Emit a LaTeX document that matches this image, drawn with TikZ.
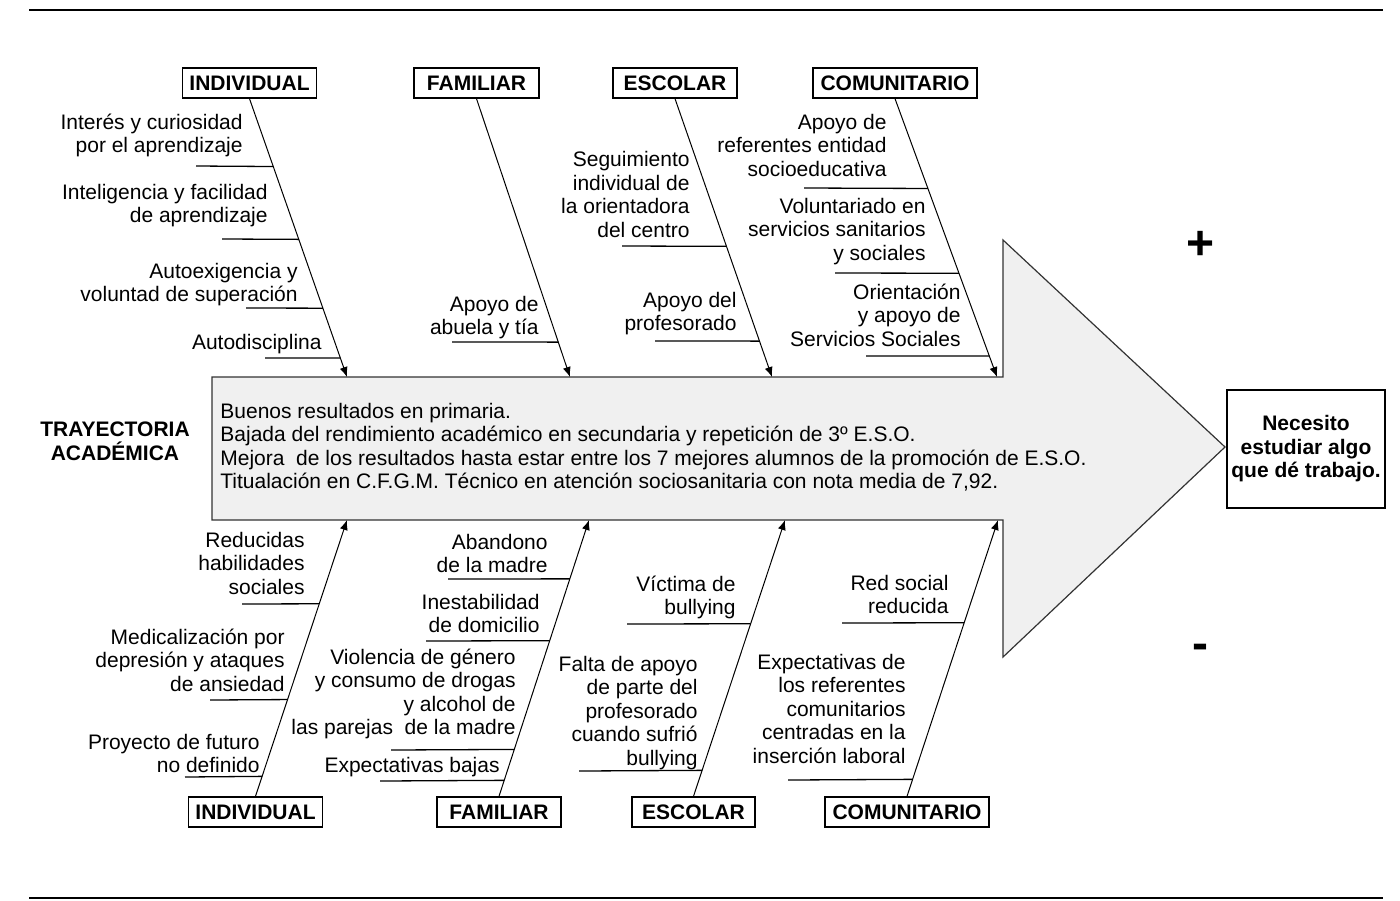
\documentclass[tikz,border=0pt]{standalone}
\usepackage{fontspec}
\setmainfont{Liberation Sans}
\usetikzlibrary{calc,arrows.meta}
\definecolor{bodyfill}{RGB}{240,240,240}
\begin{document}
\begin{tikzpicture}[x=0.5pt,y=-0.5pt,
  lbl/.style={font=\fontsize{10.5}{11.75}\selectfont, align=right, anchor=north east, inner sep=0pt, execute at begin node=\strut},
  bodytxt/.style={font=\fontsize{10.5}{11.75}\selectfont, align=left, anchor=north west, inner sep=0pt, execute at begin node=\strut},
  cat/.style={draw, line width=0.7pt, font=\fontsize{10.5}{11.75}\selectfont\bfseries, minimum height=15pt, inner xsep=3.6pt, inner ysep=0pt},
  spine/.style={line width=0.5pt, -{Latex[length=5pt,width=4pt]}},
  rib/.style={line width=0.65pt},
  rulel/.style={line width=1pt},
  arrowbody/.style={draw=black!80, line width=0.6pt, fill=bodyfill}
]
\useasboundingbox (0,0) rectangle (1400,900);

% rules
\draw[rulel] (29,10) -- (1383,10);
\draw[rulel] (29,898) -- (1383,898);

% big arrow
\draw[arrowbody] (212,377) -- (1003,377) -- (1003,240) -- (1225,447) -- (1003,657) -- (1003,520) -- (212,520) -- cycle;

% body text
\node[bodytxt] (bodytext) at (220,402.5) {Buenos resultados en primaria.\\Bajada del rendimiento académico en secundaria y repetición de 3º E.S.O.\\Mejora\ \ de los resultados hasta estar entre los 7 mejores alumnos de la promoción de E.S.O.\\Titualación en C.F.G.M. Técnico en atención sociosanitaria con nota media de 7,92.};

\node[font=\fontsize{10.5}{11.75}\selectfont\bfseries, align=center, anchor=north, inner sep=0pt, execute at begin node=\strut] (tray) at (115,421.5) {TRAYECTORIA\\ACADÉMICA};

\node[draw, line width=0.7pt, minimum width=79pt, minimum height=59pt, align=center, inner sep=0pt, font=\fontsize{10.5}{11.75}\selectfont\bfseries] (res) at (1306,449) {Necesito\\estudiar algo\\que dé trabajo.};

\node[font=\fontsize{24}{24}\selectfont\bfseries, inner sep=0pt] (plus) at (1200,245) {+};
\node[font=\fontsize{24}{24}\selectfont\bfseries, inner sep=0pt] (minus) at (1200,652) {-};

% category boxes
\node[cat, minimum width=66.5pt] (ti) at (249.5,83) {INDIVIDUAL};
\node[cat, minimum width=62.5pt] (tf) at (476.5,83) {FAMILIAR};
\node[cat, minimum width=62pt] (te) at (675,83) {ESCOLAR};
\node[cat, minimum width=82pt] (tc) at (895,83) {COMUNITARIO};
\node[cat, minimum width=66.5pt] (bi) at (255.5,812) {INDIVIDUAL};
\node[cat, minimum width=62pt] (bf) at (499,812) {FAMILIAR};
\node[cat, minimum width=61.5pt] (be) at (693.5,812) {ESCOLAR};
\node[cat, minimum width=82pt] (bc) at (907,812) {COMUNITARIO};

% spine ends
\coordinate (eti) at (347,377);
\coordinate (etf) at (570,377);
\coordinate (ete) at (772,377);
\coordinate (etc) at (997,377);
\coordinate (ebi) at (347,520);
\coordinate (ebf) at (589,520);
\coordinate (ebe) at (785,520);
\coordinate (ebc) at (998,520);

\draw[spine] (ti.south) -- (eti);
\draw[spine] (tf.south) -- (etf);
\draw[spine] (te.south) -- (ete);
\draw[spine] (tc.south) -- (etc);
\draw[spine] (bi.north) -- (ebi);
\draw[spine] (bf.north) -- (ebf);
\draw[spine] (be.north) -- (ebe);
\draw[spine] (bc.north) -- (ebc);

% ribs top
\draw[rib] (196,166) -- ($(ti.south)!0.2437!(eti)$);
\draw[rib] (222,239) -- ($(ti.south)!0.5054!(eti)$);
\draw[rib] (246,308) -- ($(ti.south)!0.7527!(eti)$);
\draw[rib] (265,358) -- ($(ti.south)!0.9319!(eti)$);
\draw[rib] (452,342) -- ($(tf.south)!0.8746!(etf)$);
\draw[rib] (622,246) -- ($(te.south)!0.5305!(ete)$);
\draw[rib] (655,341) -- ($(te.south)!0.8710!(ete)$);
\draw[rib] (804,188) -- ($(tc.south)!0.3226!(etc)$);
\draw[rib] (835,273) -- ($(tc.south)!0.6272!(etc)$);
\draw[rib] (866,356) -- ($(tc.south)!0.9247!(etc)$);
% ribs bottom
\draw[rib] (242,604) -- ($(bi.north)!0.6968!(ebi)$);
\draw[rib] (210,700) -- ($(bi.north)!0.3502!(ebi)$);
\draw[rib] (185,777) -- ($(bi.north)!0.0722!(ebi)$);
\draw[rib] (448,579) -- ($(bf.north)!0.7870!(ebf)$);
\draw[rib] (426,641) -- ($(bf.north)!0.5632!(ebf)$);
\draw[rib] (391,750) -- ($(bf.north)!0.1697!(ebf)$);
\draw[rib] (380,781) -- ($(bf.north)!0.0578!(ebf)$);
\draw[rib] (627,624) -- ($(be.north)!0.6245!(ebe)$);
\draw[rib] (579,771) -- ($(be.north)!0.0939!(ebe)$);
\draw[rib] (842,623) -- ($(bc.north)!0.6282!(ebc)$);
\draw[rib] (788,780) -- ($(bc.north)!0.0614!(ebc)$);

% labels top
\node[lbl] (t1) at (243,113.5) {Interés y curiosidad\\por el aprendizaje};
\node[lbl] (t2) at (268,183.5) {Inteligencia y facilidad\\de aprendizaje};
\node[lbl] (t3) at (298,262.5) {Autoexigencia y\\voluntad de superación};
\node[lbl] (t4) at (322,332.5) {Autodisciplina};
\node[lbl] (t5) at (539,295.5) {Apoyo de\\abuela y tía};
\node[lbl] (t6) at (690,151) {Seguimiento\\individual de\\la orientadora\\del centro};
\node[lbl] (t7) at (737,291.5) {Apoyo del\\profesorado};
\node[lbl] (t8) at (887,113.5) {Apoyo de\\referentes entidad\\socioeducativa};
\node[lbl] (t9) at (926,197.5) {Voluntariado en\\servicios sanitarios\\y sociales};
\node[lbl] (t10) at (961,283.5) {Orientación\\y apoyo de\\Servicios Sociales};

% labels bottom
\node[lbl] (b1) at (305,531.5) {Reducidas\\habilidades\\sociales};
\node[lbl] (b2) at (285,628.5) {Medicalización por\\depresión y ataques\\de ansiedad};
\node[lbl] (b3) at (260,733.5) {Proyecto de futuro\\no definido};
\node[lbl] (b4) at (548,533.5) {Abandono\\de la madre};
\node[lbl] (b5) at (540,593.5) {Inestabilidad\\de domicilio};
\node[lbl] (b6) at (516,648.5) {Violencia de género\\y consumo de drogas\\y alcohol de\\las parejas\ \ de la madre};
\node[lbl] (b7) at (500,755.5) {Expectativas bajas};
\node[lbl] (b8) at (736,575.5) {Víctima de\\bullying};
\node[lbl] (b9) at (698,655.5) {Falta de apoyo\\de parte del\\profesorado\\cuando sufrió\\bullying};
\node[lbl] (b10) at (949,574.5) {Red social\\reducida};
\node[lbl] (b11) at (906,653.5) {Expectativas de\\los referentes\\comunitarios\\centradas en la\\inserción laboral};
\end{tikzpicture}
\end{document}
